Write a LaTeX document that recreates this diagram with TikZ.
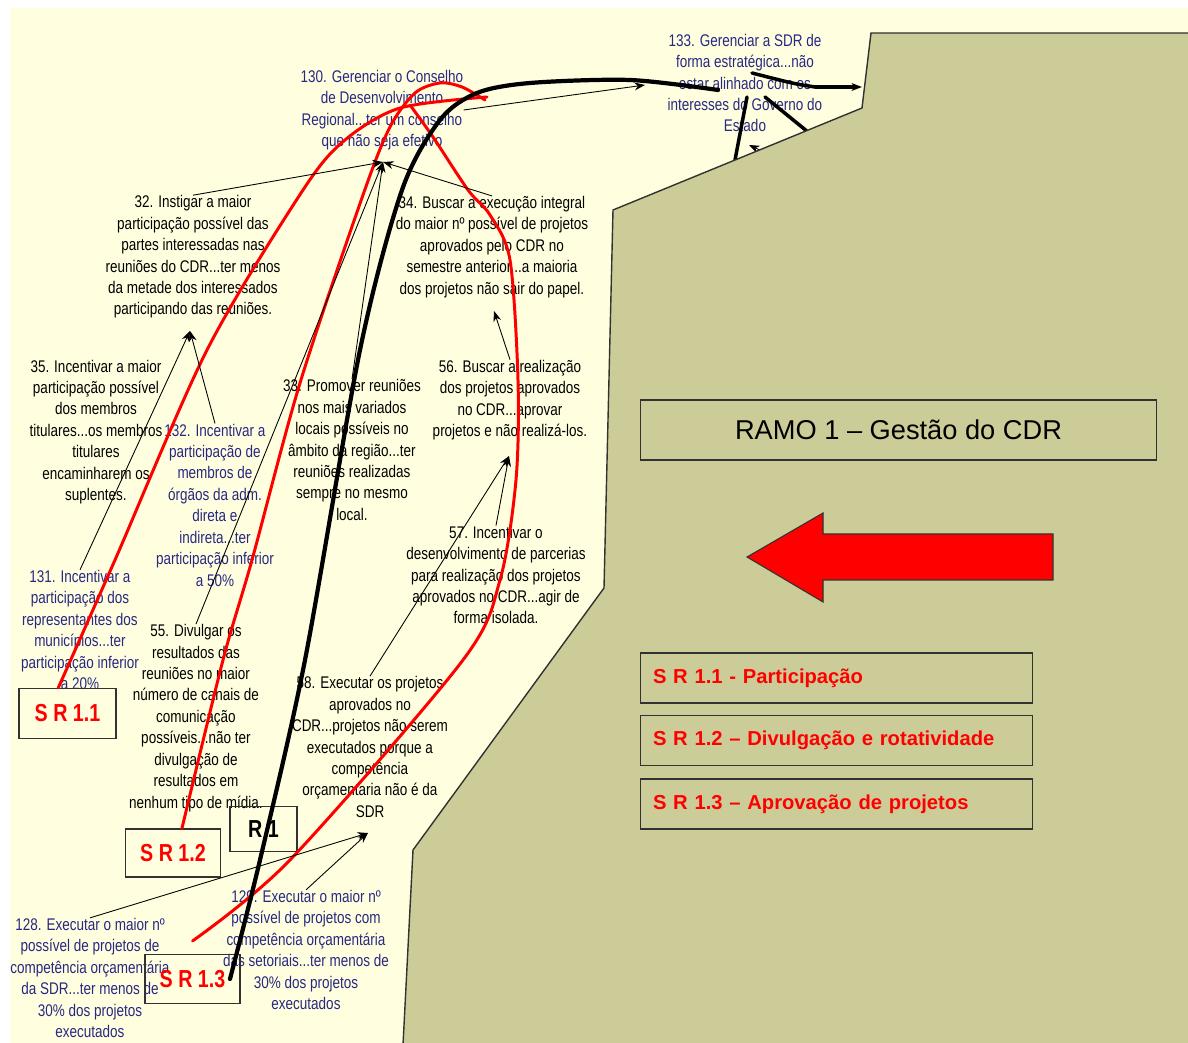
\documentclass[tikz,border=0pt]{standalone}
\usepackage{fontspec}
\setmainfont{Liberation Sans}[FakeStretch=0.8]
\newfontfamily\widefont{Liberation Sans}
\usetikzlibrary{arrows.meta}

\definecolor{cream}{RGB}{255,255,224}
\definecolor{olive}{RGB}{204,204,153}
\definecolor{navy}{RGB}{40,40,130}
\definecolor{edgegray}{RGB}{50,50,50}

\def\txtsize{\fontsize{9.6}{12.2}\selectfont}

\begin{document}
\begin{tikzpicture}[x=0.02cm,y=-0.02cm,>={Stealth[length=6pt,width=4.5pt]}]
\tikzstyle{cause}=[align=center,inner sep=0pt,font=\txtsize]
\tikzstyle{goal}=[cause,text=navy]
\tikzstyle{srbox}=[draw=edgegray,line width=0.6pt,inner sep=0pt,text=red,font=\fontsize{14}{16}\selectfont\bfseries]
\tikzstyle{legend}=[draw=edgegray,line width=0.6pt,minimum width=7.86cm,minimum height=1cm,inner xsep=0.26cm,text width=7.34cm,align=left,text=red,font=\widefont\fontsize{11.5}{14}\selectfont\bfseries]
\tikzstyle{link}=[->,draw=black,line width=0.5pt]
\tikzstyle{redpath}=[draw=red,line width=1.7pt,line cap=round]
\tikzstyle{blackpath}=[draw=black,line width=2.4pt,line cap=round]

\useasboundingbox (0,0) rectangle (1188,1043);
\fill[white] (0,0) rectangle (1188,1043);
\fill[cream] (10,8) rectangle (1188,1043);

% Write the goals (blue) and the causes (black)
\node[goal] (C-130) at (382,110) {130. Gerenciar o Conselho\\de Desenvolvimento\\Regional...ter um conselho\\que não seja efetivo};
\node[goal] (C-133) at (745,83) {133. Gerenciar a SDR de\\forma estratégica...não\\estar alinhado com os\\interesses do Governo do\\Estado};
\node[cause] (C-32) at (193,257) {32. Instigar a maior\\participação possível das\\partes interessadas nas\\reuniões do CDR...ter menos\\da metade dos interessados\\participando das reuniões.};
\node[cause] (C-34) at (492,247) {34. Buscar a execução integral\\do maior nº possível de projetos\\aprovados pelo CDR no\\semestre anterior...a maioria\\dos projetos não sair do papel.};
\node[cause] (C-35) at (96,432) {35. Incentivar a maior\\participação possível\\dos membros\\titulares...os membros\\titulares\\encaminharem os\\suplentes.};
\node[goal] (C-132) at (215,505) {132. Incentivar a\\participação de\\membros de\\órgãos da adm.\\direta e\\indireta...ter\\participação inferior\\a 50\%};
\node[cause] (C-33) at (352,450) {33. Promover reuniões\\nos mais variados\\locais possíveis no\\âmbito da região...ter\\reuniões realizadas\\sempre no mesmo\\local.};
\node[cause] (C-56) at (510,400) {56. Buscar a realização\\dos projetos aprovados\\no CDR...aprovar\\projetos e não realizá-los.};
\node[cause] (C-57) at (496,575) {57. Incentivar o\\desenvolvimento de parcerias\\para realização dos projetos\\aprovados no CDR...agir de\\forma isolada.};
\node[goal] (C-131) at (80,630) {131. Incentivar a\\participação dos\\representantes dos\\municípios...ter\\participação inferior\\a 20\%};
\node[cause] (C-55) at (196,718) {55. Divulgar os\\resultados das\\reuniões no maior\\número de canais de\\comunicação\\possíveis...não ter\\divulgação de\\resultados em\\nenhum tipo de mídia.};
\node[cause] (C-58) at (370,747) {58. Executar os projetos\\aprovados no\\CDR...projetos não serem\\executados porque a\\competência\\orçamentaria não é da\\SDR};
\node[goal] (C-128) at (90,978) {128. Executar o maior nº\\possível de projetos de\\competência orçamentária\\da SDR...ter menos de\\30\% dos projetos\\executados};
\node[goal] (C-129) at (306,950) {129. Executar o maior nº\\possível de projetos com\\competência orçamentária\\das setoriais...ter menos de\\30\% dos projetos\\executados};

% Draw the sub-branch boxes
\node[srbox,minimum width=1.94cm,minimum height=1cm] (SR-11) at (67.5,713.5) {S R 1.1};
\node[srbox,minimum width=1.9cm,minimum height=0.96cm] (SR-12) at (173,853) {S R 1.2};
\node[srbox,minimum width=1.34cm,minimum height=0.9cm,text=black] (R-1) at (263.5,829) {R 1};
\node[srbox,minimum width=1.9cm,minimum height=0.98cm] (SR-13) at (192.5,979) {S R 1.3};

% Junction points where the arrows meet
\coordinate (J-130) at (383,162);
\coordinate (J-32) at (190,331);
\coordinate (J-56) at (509,456);
\coordinate (J-34) at (494,311);
\coordinate (J-58) at (368,833);
\coordinate (J-133) at (645,85);
\coordinate (SR-13-top) at ([yshift=0.26cm]SR-13.north);
\coordinate (R-start) at ([xshift=0.75cm]SR-13.center);
\coordinate (R-end) at (718,90);

% Red paths of the sub-branches
\draw[redpath] plot[smooth] coordinates {(SR-11.110) (115,560) (207,350) (303,190) (345,140) (400,108) (487,97)};
\draw[redpath] plot[smooth] coordinates {(SR-12.70) (223,660) (252,560) (300,383) (363,195) (390,127) (415,93) (440,83) (462,87) (485,100)};
\draw[redpath] plot[smooth] coordinates {(SR-13-top) (290,860) (463,660) (500,580) (516,480) (518,380) (510,260) (490,215) (468,190) (433,137) (410,105)};

% Black path of the branch
\draw[blackpath] plot[smooth] coordinates {(R-start) (260,860) (305,660) (360,350) (402,190) (440,120) (477,93) (530,83) (630,80) (R-end)};

% Connect the causes
\foreach \source in {32,34,33,55}
\path (C-\source.north) edge[link] (J-130);

\foreach \source in {131,132}
\path (C-\source.north) edge[link] (J-32);

\foreach \source in {58,57}
\path (C-\source.north) edge[link] (J-56);

\path (C-56.north) edge[link] (J-34);

\foreach \source in {128,129}
\path (C-\source.north) edge[link] (J-58);

\path (C-130.east) edge[link] (J-133);

% Lines leaving 133 towards the hidden part
\coordinate (H-a) at (752,73);
\coordinate (H-b) at (862,87);
\coordinate (H-c) at (747,97);
\coordinate (H-d) at (735,160);
\coordinate (H-e) at (765,97);
\coordinate (H-f) at (808,132);
\coordinate (H-g) at (764,152);
\coordinate (H-h) at (749,145);
\draw[blackpath,line width=2pt,->] (H-a) .. controls (795,84) .. (815,87) -- (H-b);
\draw[blackpath,line width=2pt] (H-c) -- (H-d);
\draw[blackpath,line width=2pt] (H-e) -- (H-f);
\path (H-g) edge[link] (H-h);

% Cover
\filldraw[fill=olive,draw=edgegray,line width=0.8pt] (1190,33) -- (871,33) -- (862,108) -- (613,210) -- (604,588) -- (413,850) -- (403,1045) -- (1190,1045);

% Legend
\node[draw=edgegray,line width=0.6pt,minimum width=10.34cm,minimum height=1.2cm,font=\widefont\fontsize{15.5}{18}\selectfont] (RAMO) at (898.5,430) {RAMO 1 – Gestão do CDR};
\filldraw[fill=red,draw=edgegray,line width=0.6pt] (747,557) -- (823,513) -- (823,534) -- (1053,534) -- (1053,580) -- (823,580) -- (823,602) -- cycle;
\node[legend] (L-1) at (836.5,678) {S R 1.1 - Participação};
\node[legend] (L-2) at (836.5,740.5) {S R 1.2 – Divulgação e rotatividade};
\node[legend] (L-3) at (836.5,804) {S R 1.3 – Aprovação de projetos};

\end{tikzpicture}
\end{document}
